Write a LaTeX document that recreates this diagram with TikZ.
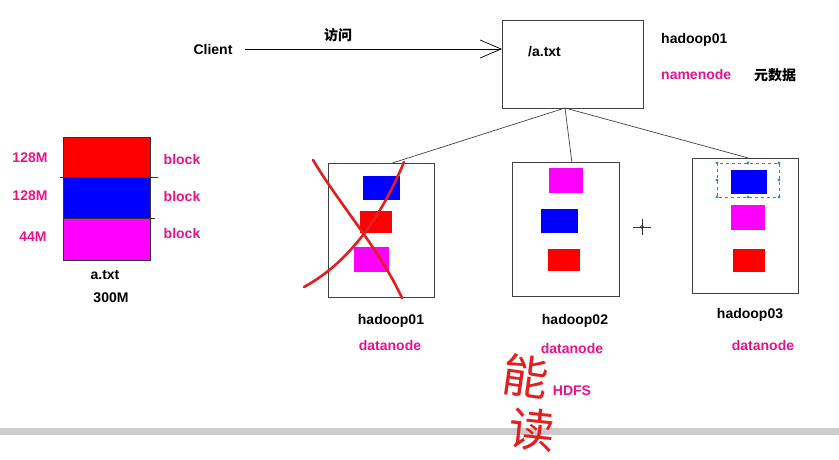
\documentclass[tikz,border=0pt]{standalone}
\usepackage{fontspec}
\setmainfont{Liberation Sans}
\newfontfamily\cjk{Noto Sans CJK SC}
\usetikzlibrary{arrows.meta}
\definecolor{pinktext}{RGB}{232,18,140}
\definecolor{inkred}{RGB}{226,30,30}
\definecolor{selblue}{RGB}{40,140,220}
\definecolor{blkred}{RGB}{255,0,0}
\definecolor{blkblue}{RGB}{0,0,255}
\definecolor{blkmag}{RGB}{255,0,255}

\tikzset{
    lbl/.style={font=\fontsize{14}{16}\selectfont\bfseries, inner sep=0pt},
    pinklbl/.style={lbl, text=pinktext},
    cjklbl/.style={font=\fontsize{14}{16}\selectfont\cjk\bfseries, inner sep=0pt},
    server/.style={draw=black!75, line width=0.8pt, inner sep=0pt, anchor=north west},
    blockrect/.style={inner sep=0pt, anchor=north west, minimum width=#1},
    cross/.style={draw=inkred, line width=2.6pt, line cap=round},
    handwrite/.style={text=inkred, font=\fontsize{46}{50}\selectfont\cjk, inner sep=0pt}
}

\begin{document}
\begin{tikzpicture}[x=1pt, y=-1pt]
        \useasboundingbox (0,0) rectangle (839,460);

        % client and namenode
        \node[lbl] (client) at (213,49) {Client};
        \node[server, minimum width=141pt, minimum height=88pt] (nn) at (502,20) {};
        \node[lbl, anchor=west] (file) at (528,52) {/a.txt};
        \node[lbl, anchor=west] (nnhost) at (661,40) {hadoop01};
        \node[pinklbl, anchor=west] (nnrole) at (661,74) {namenode};
        \node[cjklbl, anchor=west] (meta) at (754,75) {元数据};
        \draw[line width=0.7pt, -{Straight Barb[length=21pt, width=18pt, line width=0.7pt]}]
            (client.east) ++(12pt,0) coordinate (cstart) -- (nn.west |- client) coordinate (cend);
        \node[cjklbl] (visit) at (338,35) {访问};

        % the file split into blocks
        \node[blockrect=87pt, fill=blkred, minimum height=40pt] (blk1) at (63,137) {};
        \node[blockrect=87pt, fill=blkblue, minimum height=41pt] (blk2) at (63,177) {};
        \node[blockrect=87pt, fill=blkmag, minimum height=42pt] (blk3) at (63,218) {};
        \draw[black!80, line width=0.6pt] (blk1.north west) rectangle (blk3.south east);
        \draw[black!80, line width=0.6pt] ([xshift=-3pt]blk2.north west) -- ([xshift=8pt]blk2.north east);
        \draw[black!80, line width=0.6pt] (blk3.north west) -- ([xshift=5pt]blk3.north east);
        \node[pinklbl] (s1) at (30,158) {128M};
        \node[pinklbl] (s2) at (30,196) {128M};
        \node[pinklbl] (s3) at (33,237) {44M};
        \node[pinklbl] (k1) at (182,159) {block};
        \node[pinklbl] (k2) at (182,196) {block};
        \node[pinklbl] (k3) at (182,233) {block};
        \node[lbl] (fname) at (105,275) {a.txt};
        \node[lbl] (fsize) at (111,298) {300M};

        % datanodes
        \node[server, minimum width=106pt, minimum height=134pt] (dn1) at (328,163) {};
        \node[server, minimum width=107pt, minimum height=134pt] (dn2) at (512,162) {};
        \node[server, minimum width=106pt, minimum height=135pt] (dn3) at (692,158) {};

        \node[blockrect=37pt, fill=blkblue, minimum height=24pt] (d1a) at (363,176) {};
        \node[blockrect=32pt, fill=blkred, minimum height=22pt] (d1b) at (360,211) {};
        \node[blockrect=35pt, fill=blkmag, minimum height=25pt] (d1c) at (354,247) {};

        \node[blockrect=34pt, fill=blkmag, minimum height=25pt] (d2a) at (549,168) {};
        \node[blockrect=37pt, fill=blkblue, minimum height=24pt] (d2b) at (541,209) {};
        \node[blockrect=32pt, fill=blkred, minimum height=22pt] (d2c) at (548,249) {};

        \node[blockrect=36pt, fill=blkblue, minimum height=24pt] (d3a) at (731,170) {};
        \node[blockrect=34pt, fill=blkmag, minimum height=25pt] (d3b) at (731,205) {};
        \node[blockrect=32pt, fill=blkred, minimum height=23pt] (d3c) at (733,249) {};

        \coordinate (fork) at (565,108);
        \draw[black!75, line width=0.7pt] (fork) -- ([xshift=11pt]dn1.north);
        \draw[black!75, line width=0.7pt] (fork) -- ([xshift=6pt]dn2.north);
        \draw[black!75, line width=0.7pt] (fork) -- ([xshift=3pt]dn3.north);

        % selection frame round the copied block
        \draw[selblue, dashed, line width=0.7pt] (717,163) rectangle (779,197);
        \foreach \px/\py in {717/163, 748/163, 779/163, 717/180, 779/180, 717/197, 748/197, 779/197}
            \fill[selblue] (\px,\py) circle (1.6pt);

        % cursor
        \draw[black!80, line width=0.6pt] (633,227) -- (651,227) (642,219) -- (642,235);
        \draw[black!80, line width=0.6pt] (642,227) circle (1.6pt);

        \node[lbl] (h1) at (391,321) {hadoop01};
        \node[pinklbl] (r1) at (390,345) {datanode};
        \node[lbl] (h2) at (575,321) {hadoop02};
        \node[pinklbl] (r2) at (572,348) {datanode};
        \node[lbl] (h3) at (750,315) {hadoop03};
        \node[pinklbl] (r3) at (763,345) {datanode};
        \node[pinklbl] (hdfs) at (572,391) {HDFS};

        % the failed node crossed out
        \draw[cross] (313,160) .. controls (340,205) and (380,250) .. (402,298);
        \draw[cross] (304,287) .. controls (350,262) and (382,215) .. (404,162);

        % grey rule at the bottom
        \fill[black!20] (0,428) rectangle (839,435);

        \node[handwrite, rotate=-8] (neng) at (526,376) {能};
        \node[handwrite, rotate=-6] (du) at (532,430) {读};
    \end{tikzpicture}
\end{document}
